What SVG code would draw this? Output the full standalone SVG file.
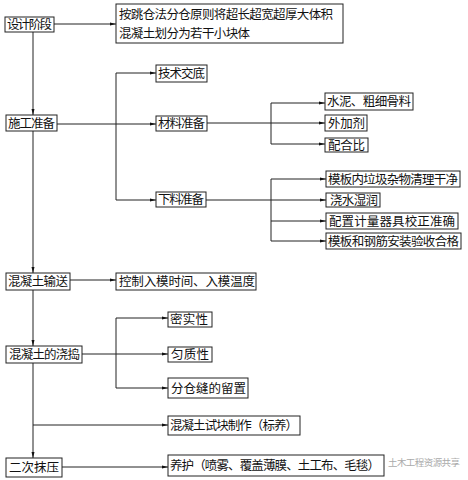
<svg xmlns="http://www.w3.org/2000/svg" width="468" height="480" viewBox="0 0 468 480">
<defs>
<marker id="ah" markerWidth="6" markerHeight="4" refX="6" refY="2" orient="auto" markerUnits="userSpaceOnUse">
<path d="M0,0.5 L6,2 L0,3.5 Z" fill="#111"/>
</marker>
<style>
.b{fill:#fff;stroke:#222;stroke-width:1}
.t{font-family:"Noto Sans CJK SC","Liberation Serif",serif;font-size:12.5px;fill:#111}
.c{fill:none;stroke:#222;stroke-width:1}
.a{fill:none;stroke:#222;stroke-width:1;marker-end:url(#ah)}
.w{font-family:"Noto Sans CJK SC",sans-serif;font-size:9.5px;fill:#aaa}
</style>
</defs>
<rect width="468" height="480" fill="#fff"/>
<g id="connectors">
<path class="a" d="M33,32 V115"/>
<path class="a" d="M33,131 V273"/>
<path class="a" d="M33,290 V346"/>
<path class="a" d="M33,363 V458"/>
<path class="a" d="M54,24 H116"/>
<path class="a" d="M57,124 H156"/>
<path class="a" d="M116,73 H156"/>
<path class="c" d="M116,73 V200"/>
<path class="a" d="M116,200 H156"/>
<path class="a" d="M207,123 H325"/>
<path class="c" d="M271,103 V144"/>
<path class="a" d="M271,103 H325"/>
<path class="a" d="M271,144 H325"/>
<path class="a" d="M206,200 H326"/>
<path class="c" d="M271,179 V241"/>
<path class="a" d="M271,179 H326"/>
<path class="a" d="M271,221 H326"/>
<path class="a" d="M271,241 H326"/>
<path class="a" d="M70,280 H116"/>
<path class="a" d="M82,354 H168"/>
<path class="c" d="M116,318 V388"/>
<path class="a" d="M116,318 H168"/>
<path class="a" d="M116,388 H168"/>
<path class="a" d="M33,425 H168"/>
<path class="a" d="M62,467 H168"/>
</g>
<g id="n1"><rect class="b" x="5" y="17" width="49" height="15"/><text class="t" x="7" y="29" textLength="45">设计阶段</text></g>
<g id="n2"><rect class="b" x="116" y="4" width="227" height="39"/><text class="t" x="119" y="19" textLength="214">按跳仓法分仓原则将超长超宽超厚大体积</text><text class="t" x="119" y="38" textLength="131">混凝土划分为若干小块体</text></g>
<g id="n3"><rect class="b" x="6" y="115" width="51" height="16"/><text class="t" x="8" y="128" textLength="47">施工准备</text></g>
<g id="n4"><rect class="b" x="156" y="65" width="51" height="17"/><text class="t" x="158" y="78" textLength="47">技术交底</text></g>
<g id="n5"><rect class="b" x="156" y="116" width="51" height="15"/><text class="t" x="158" y="128" textLength="47">材料准备</text></g>
<g id="n6"><rect class="b" x="156" y="192" width="50" height="15"/><text class="t" x="158" y="204" textLength="46">下料准备</text></g>
<g id="n7"><rect class="b" x="325" y="93" width="88" height="17"/><text class="t" x="327" y="106" textLength="84">水泥、粗细骨料</text></g>
<g id="n8"><rect class="b" x="325" y="115" width="42" height="16"/><text class="t" x="328" y="128" textLength="37">外加剂</text></g>
<g id="n9"><rect class="b" x="325" y="138" width="43" height="14"/><text class="t" x="328" y="150" textLength="37">配合比</text></g>
<g id="n10"><rect class="b" x="326" y="171" width="134" height="16"/><text class="t" x="328" y="184" textLength="130">模板内垃圾杂物清理干净</text></g>
<g id="n11"><rect class="b" x="326" y="193" width="54" height="14"/><text class="t" x="330" y="205" textLength="48">浇水湿润</text></g>
<g id="n12"><rect class="b" x="326" y="213" width="132" height="16"/><text class="t" x="329" y="226" textLength="126">配置计量器具校正准确</text></g>
<g id="n13"><rect class="b" x="326" y="233" width="135" height="16"/><text class="t" x="328" y="246" textLength="131">模板和钢筋安装验收合格</text></g>
<g id="n14"><rect class="b" x="6" y="273" width="64" height="17"/><text class="t" x="8" y="286" textLength="60">混凝土输送</text></g>
<g id="n15"><rect class="b" x="116" y="273" width="140" height="17"/><text class="t" x="119" y="286" textLength="136">控制入模时间、入模温度</text></g>
<g id="n16"><rect class="b" x="6" y="346" width="76" height="17"/><text class="t" x="9" y="359" textLength="71">混凝土的浇捣</text></g>
<g id="n17"><rect class="b" x="168" y="312" width="44" height="15"/><text class="t" x="170" y="324" textLength="38">密实性</text></g>
<g id="n18"><rect class="b" x="168" y="347" width="44" height="15"/><text class="t" x="171" y="359" textLength="38">匀质性</text></g>
<g id="n19"><rect class="b" x="168" y="378" width="80" height="20"/><text class="t" x="171" y="393" textLength="75">分仓缝的留置</text></g>
<g id="n20"><rect class="b" x="168" y="416" width="132" height="19"/><text class="t" x="170" y="430" textLength="128">混凝土试块制作（标养）</text></g>
<g id="n21"><rect class="b" x="6" y="458" width="56" height="19"/><text class="t" x="9" y="472" textLength="50">二次抹压</text></g>
<g id="n22"><rect class="b" x="168" y="455" width="216" height="21"/><text class="t" x="170" y="470" textLength="210">养护（喷雾、覆盖薄膜、土工布、毛毯）</text></g>
<text class="w" x="388" y="466" textLength="72">土木工程资源共享</text>
</svg>
